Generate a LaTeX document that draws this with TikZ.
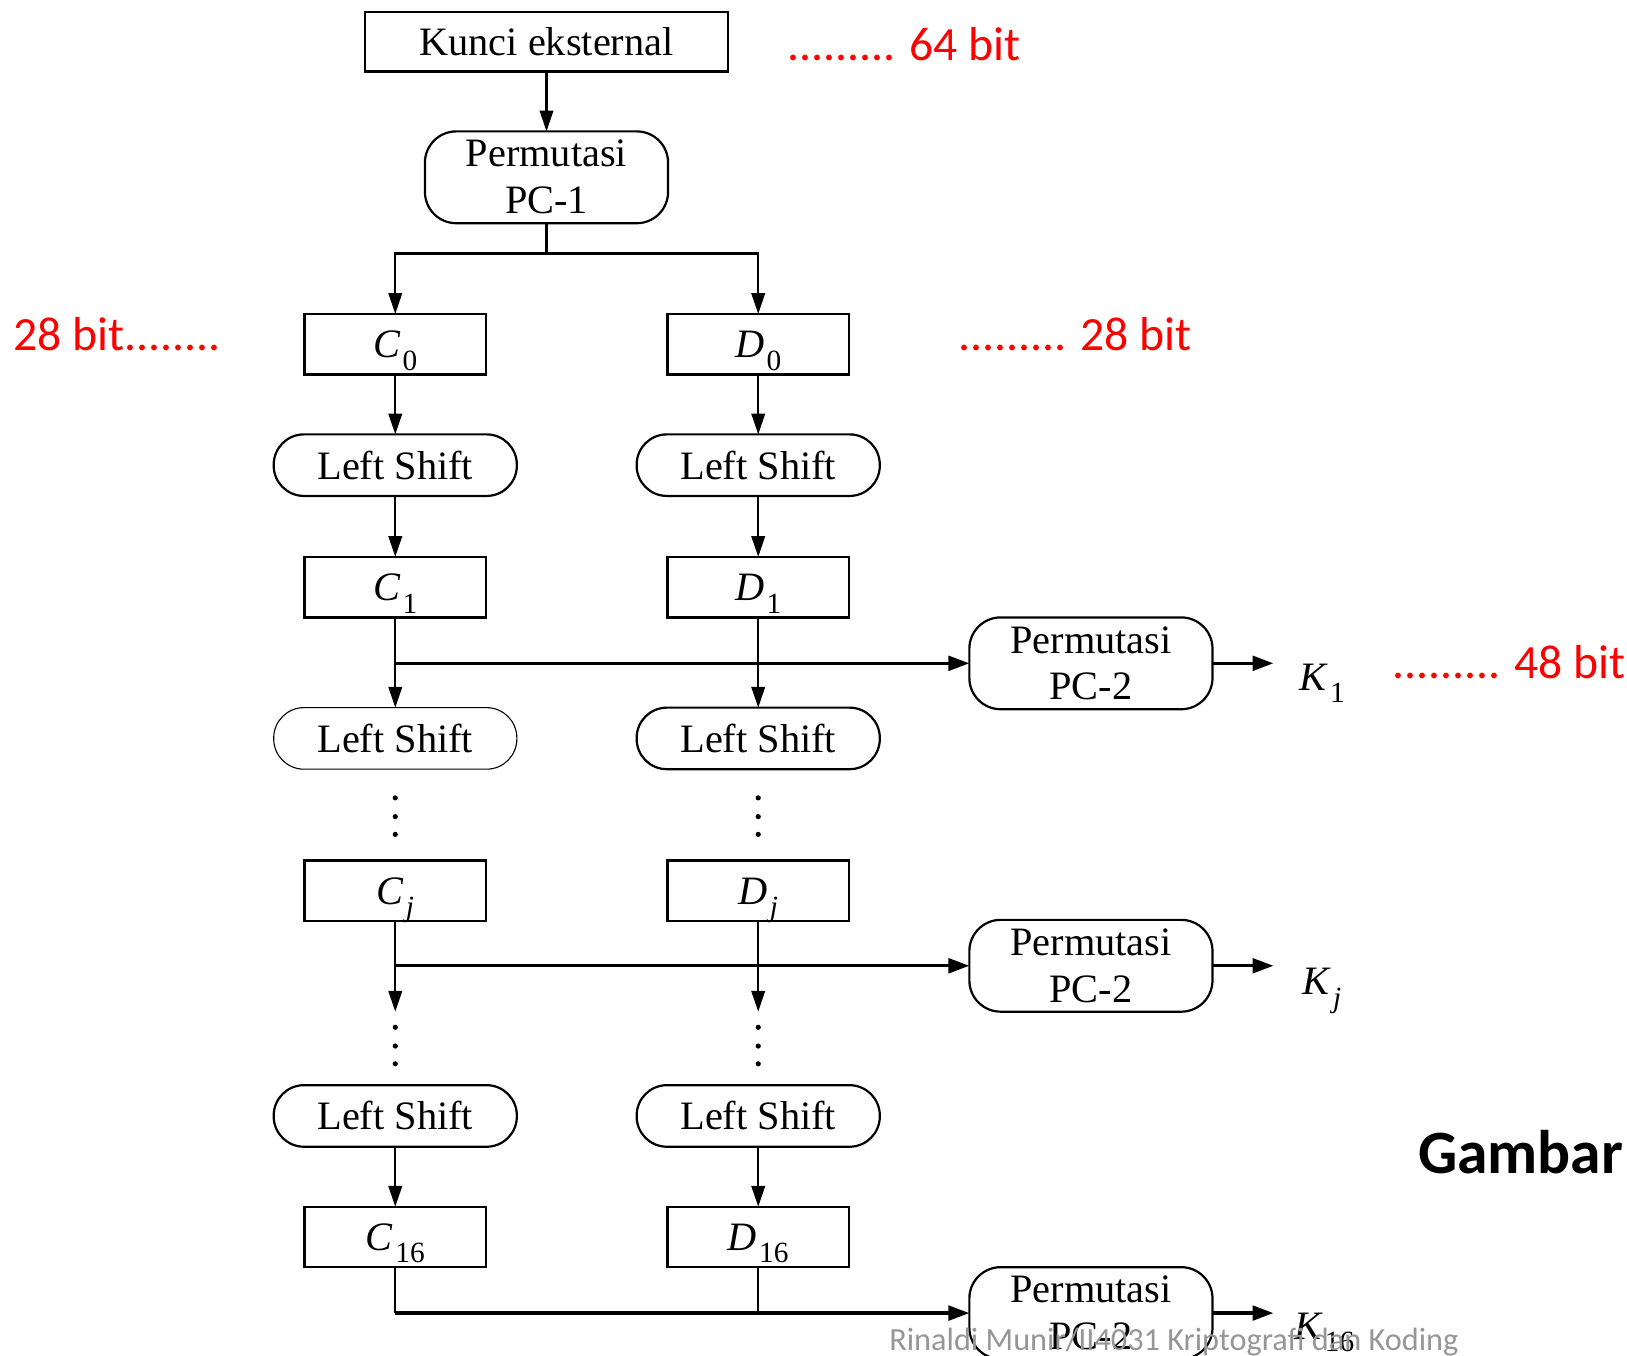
\documentclass[tikz,border=0pt]{standalone}
\usepackage{fontspec}
\setmainfont{Liberation Serif}
\newfontfamily\calibri{Carlito}
\usetikzlibrary{arrows.meta,calc}
\newcommand{\csub}[2]{\textit{#1}\hspace{0.6pt}\raisebox{-3.4pt}{\fontsize{8}{8}\selectfont #2}}
\definecolor{wm}{RGB}{150,150,150}
\begin{document}
\begin{tikzpicture}[x=0.01cm,y=-0.01cm,
  every node/.style={font=\fontsize{11}{12.8}\selectfont},
  base/.style={draw, line width=0.6pt, inner sep=0pt, outer sep=0pt},
  sqbox/.style={base, minimum width=1.74cm, minimum height=0.58cm, text height=7.4pt, text depth=0pt},
  lsbox/.style={base, rounded corners=0.29cm, minimum width=2.33cm, minimum height=0.59cm, text height=7.6pt, text depth=0pt},
  pcbox/.style={base, rounded corners=0.3cm, minimum width=2.33cm, minimum height=0.88cm, align=center},
  arr/.style={-{Triangle[length=0.2cm,width=0.13cm]}, line width=0.6pt},
  harr/.style={-{Triangle[length=0.2cm,width=0.14cm]}, line width=0.9pt},
  red/.style={text=red, font=\calibri\fontsize{13}{13}\selectfont, anchor=base west, inner sep=0pt},
  klab/.style={anchor=base west, inner sep=0pt}]
\useasboundingbox (0,0) rectangle (1560,1300);

% nodes
\node[base, minimum width=3.48cm, minimum height=0.57cm] (kunci) at (524,40) {Kunci eksternal};
\node[pcbox] (pc1) at (524,170) {Permutasi\\PC-1};
\node[sqbox] (c0) at (379,330) {\csub{C}{0}};
\node[sqbox] (d0) at (727,330) {\csub{D}{0}};
\node[lsbox] (ls1l) at (379,446) {Left Shift};
\node[lsbox] (ls1r) at (727,446) {Left Shift};
\node[sqbox] (c1) at (379,563) {\csub{C}{1}};
\node[sqbox] (d1) at (727,563) {\csub{D}{1}};
\node[pcbox] (pc2a) at (1046,636) {Permutasi\\PC-2};
\node[lsbox, line width=0.3pt] (ls2l) at (379,708) {Left Shift};
\node[lsbox] (ls2r) at (727,708) {Left Shift};
\node[sqbox] (cj) at (379,854) {\csub{C}{\textit{j}}};
\node[sqbox] (dj) at (727,854) {\csub{D}{\textit{j}}};
\node[pcbox] (pc2b) at (1046,926) {Permutasi\\PC-2};
\node[lsbox] (ls3l) at (379,1070) {Left Shift};
\node[lsbox] (ls3r) at (727,1070) {Left Shift};
\node[sqbox] (c16) at (379,1186) {\csub{C}{16}};
\node[sqbox] (d16) at (727,1186) {\csub{D}{16}};
\node[pcbox] (pc2c) at (1046,1259) {Permutasi\\PC-2};

\node[klab] (k1) at (1245,662) {\csub{K}{1}};
\node[klab] (kj) at (1248,954) {\csub{K}{\textit{j}}};
\node[klab] (k16) at (1240,1284) {\csub{K}{16}};

% red annotations
\node[red] (a64) at (754,58) {......... 64 bit};
\node[red] (a28l) at (12,336) {28 bit........};
\node[red] (a28r) at (918,336) {......... 28 bit};
\node[red] (a48) at (1334,651) {......... 48 bit};
\node[anchor=base west, inner sep=0pt, font=\calibri\bfseries\fontsize{16.8}{17}\selectfont] (gambar) at (1359,1125) {Gambar};

% connectors
\draw[arr] (kunci) -- (pc1);
\coordinate (split) at (524,243);
\draw[arr] (pc1.south) -- (split) -| (c0.north);
\draw[arr] (split) -| (d0.north);
\draw[arr] (c0) -- (ls1l);
\draw[arr] (d0) -- (ls1r);
\draw[arr] (ls1l) -- (c1);
\draw[arr] (ls1r) -- (d1);
\draw[arr] (c1) -- (ls2l);
\draw[arr] (d1) -- (ls2r);
\draw[harr] (c1.south |- pc2a.west) -- (pc2a.west);
\coordinate (k1a) at (1221,636);
\draw[harr] (pc2a.east) -- (k1a);

\coordinate (cje) at (379,970);
\coordinate (dje) at (727,970);
\draw[arr] (cj) -- (cje);
\draw[arr] (dj) -- (dje);
\draw[harr] (cj.south |- pc2b.west) -- (pc2b.west);
\coordinate (kja) at (1221,926);
\draw[harr] (pc2b.east) -- (kja);

\draw[arr] (ls3l) -- (c16);
\draw[arr] (ls3r) -- (d16);
\draw[line width=0.6pt] (c16.south) -- (c16.south |- pc2c.west);
\draw[line width=0.6pt] (d16.south) -- (d16.south |- pc2c.west);
\draw[harr] (c16.south |- pc2c.west) -- (pc2c.west);
\coordinate (k16a) at (1221,1259);
\draw[harr] (pc2c.east) -- (k16a);

% ellipsis dots
\foreach \yy in {765,783,800,985,1003,1020}{
  \fill (379,\yy) circle[radius=0.025cm];
  \fill (727,\yy) circle[radius=0.025cm];
}

% watermark
\node[anchor=base west, inner sep=0pt, text=wm, font=\calibri\fontsize{8.8}{9}\selectfont] (wmark) at (852,1295) {Rinaldi Munir/II4031 Kriptografi dan Koding};
\end{tikzpicture}
\end{document}
